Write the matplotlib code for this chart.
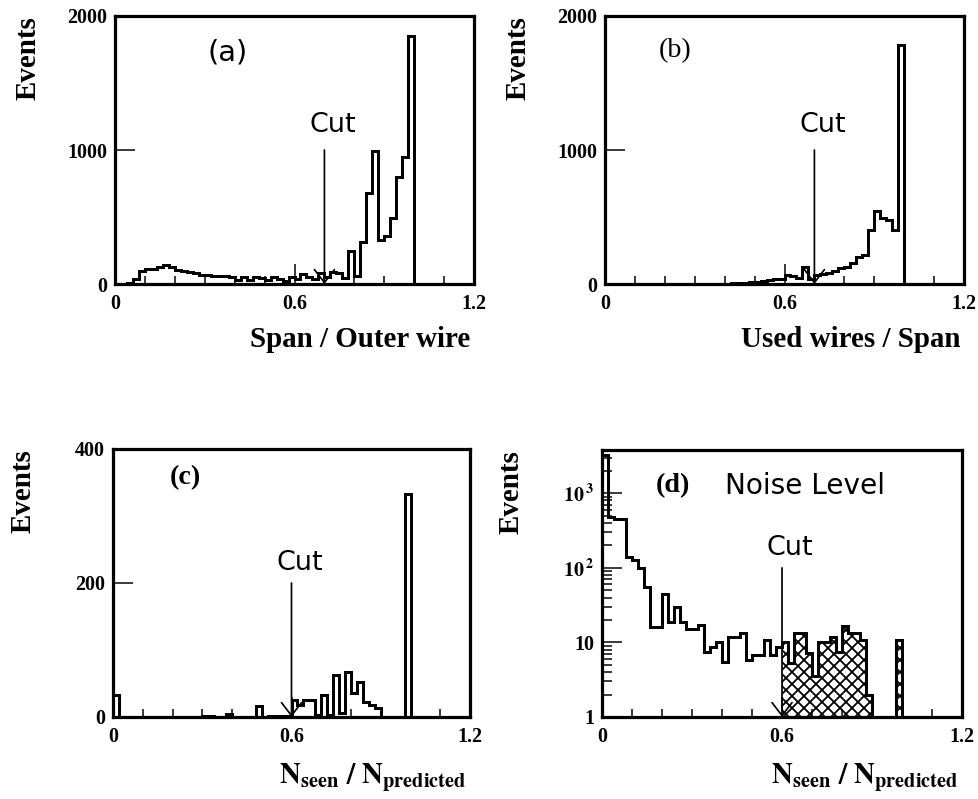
import numpy as np
import matplotlib
matplotlib.use('Agg')
import matplotlib.pyplot as plt
from matplotlib.ticker import FixedLocator, MultipleLocator, NullFormatter

plt.rcParams['mathtext.fontset'] = 'stix'
plt.rcParams['hatch.linewidth'] = 1.8

# bin edges shared by the four histograms (width 0.02)
edges = np.linspace(0.0, 1.0, 51)

# (a) Span / Outer wire
span_counts = [0, 0, 5, 35, 100, 110, 115, 130, 140, 125,
               105, 95, 90, 80, 70, 65, 62, 60, 58, 55,
               30, 50, 30, 50, 45, 30, 50, 40, 25, 55,
               35, 75, 55, 40, 80, 55, 90, 85, 45, 250,
               60, 310, 680, 990, 330, 360, 490, 800, 950, 1850]

# (b) Used wires / Span
used_counts = [0, 0, 0, 0, 0, 0, 0, 0, 0, 0,
               0, 0, 0, 0, 0, 0, 0, 0, 0, 0,
               2, 4, 6, 10, 18, 15, 25, 28, 35, 40,
               70, 60, 45, 125, 40, 70, 75, 85, 100, 118,
               130, 155, 205, 220, 400, 545, 490, 480, 400, 1780]

# (c) Nseen / Npredicted
seen_counts = [33, 0, 0, 0, 0, 0, 0, 0, 0, 0,
               0, 0, 0, 0, 0, 1, 1, 0, 0, 4,
               0, 0, 0, 0, 17, 0, 1, 1, 1, 2,
               26, 18, 26, 26, 3, 33, 3, 63, 6, 67,
               36, 52, 22, 18, 13, 0, 0, 0, 0, 333]

# (d) Noise level (log scale, 1 = empty bin)
noise_counts = [3300, 480, 450, 450, 140, 127, 100, 55, 16, 16,
                45, 19, 30, 19, 15, 15, 17, 7.5, 8.7, 10,
                5.5, 12, 12, 13.5, 5.8, 6.8, 6.8, 10.8, 6.8, 8.7,
                10, 5.3, 13.4, 13.4, 7.2, 3.5, 10, 10, 11.8, 7.4,
                16.7, 13.4, 13.4, 10.8, 2, 1, 1, 1, 1, 10.8]

cut_ab = 0.7
cut_cd = 0.6

serif = 'Liberation Serif'
sans = 'DejaVu Sans'

W, H = 978, 799
fig = plt.figure(figsize=(W / 72, H / 72), dpi=72)


def px_axes(l, t, r, b):
    return fig.add_axes([l / W, 1 - b / H, (r - l) / W, (b - t) / H])


def style(ax):
    for s in ax.spines.values():
        s.set_linewidth(3.2)
    ax.set_xlim(0, 1.2)
    ax.xaxis.set_major_locator(FixedLocator([0, 0.6, 1.2]))
    ax.xaxis.set_minor_locator(MultipleLocator(0.1))
    ax.set_xticklabels(['0', '0.6', '1.2'])
    ax.tick_params(which='both', direction='in', top=False, right=False, width=1.5,
                   labelsize=20)
    ax.tick_params(which='major', length=20)
    ax.tick_params(which='minor', length=8)
    ax.tick_params(axis='x', pad=10)
    ax.tick_params(axis='y', pad=8)
    for lab in ax.get_xticklabels() + ax.get_yticklabels():
        lab.set_fontfamily(serif)
        lab.set_fontweight('bold')
    ax.set_ylabel('Events', fontsize=29, fontfamily=serif, fontweight='bold', loc='top')


def cut(ax, x, top, ytext):
    ax.annotate('', xy=(x, ax.get_ylim()[0]), xytext=(x, top),
                arrowprops=dict(arrowstyle='->,head_length=0.65,head_width=0.5',
                                lw=1.7, color='k', shrinkA=0, shrinkB=0,
                                mutation_scale=20))
    ax.text(x - 0.05, ytext, 'Cut', fontsize=27, fontfamily=sans, va='bottom', ha='left')


# ---- (a)
ax = px_axes(115, 16, 474, 284)
ax.stairs(span_counts, edges, color='k', lw=3, baseline=0)
ax.set_ylim(0, 2000)
ax.set_yticks([0, 1000, 2000])
ax.set_yticklabels(['0', '1000', '2000'])
style(ax)
cut(ax, cut_ab, 1000, 1090)
ax.text(0.31, 1730, '(a)', fontsize=29, fontfamily=sans, va='center')
ax.set_xlabel('Span / Outer wire', fontsize=29, fontfamily=serif, fontweight='bold', loc='right')
ax.xaxis.set_label_coords(0.99, -0.155)
ax.yaxis.set_label_coords(-0.205, 1.0)

# ---- (b)
ax = px_axes(605, 16, 964, 284)
ax.stairs(used_counts, edges, color='k', lw=3, baseline=0)
ax.set_ylim(0, 2000)
ax.set_yticks([0, 1000, 2000])
ax.set_yticklabels(['0', '1000', '2000'])
style(ax)
cut(ax, cut_ab, 1000, 1090)
ax.text(0.18, 1745, '(b)', fontsize=28, fontfamily=serif, va='center')
ax.set_xlabel('Used wires / Span', fontsize=29, fontfamily=serif, fontweight='bold', loc='right')
ax.xaxis.set_label_coords(0.99, -0.155)
ax.yaxis.set_label_coords(-0.205, 1.0)

nlabel = r'$\mathbf{N_{seen}\ /\ N_{predicted}}$'

# ---- (c)
ax = px_axes(113, 449, 470, 717)
ax.stairs(seen_counts, edges, color='k', lw=3, baseline=0)
ax.set_ylim(0, 400)
ax.set_yticks([0, 200, 400])
ax.set_yticklabels(['0', '200', '400'])
style(ax)
cut(ax, cut_cd, 200, 210)
ax.text(0.19, 357, '(c)', fontsize=28, fontfamily=serif, fontweight='bold', va='center')
ax.set_xlabel(nlabel, fontsize=29, loc='right')
ax.xaxis.set_label_coords(0.99, -0.165)
ax.yaxis.set_label_coords(-0.215, 1.0)

# ---- (d)
ax = px_axes(602, 450, 962, 717)
ax.set_yscale('log')
ax.set_ylim(1, 3800)
noise = np.array(noise_counts)
sel = edges[:-1] >= cut_cd - 1e-9
k0 = np.argmax(sel)
ax.stairs(noise[k0:], edges[k0:], baseline=1, fill=True, facecolor='white',
          edgecolor='k', hatch='xx', lw=0)
ax.stairs(noise, edges, color='k', lw=3, baseline=1)
ax.yaxis.set_major_locator(FixedLocator([1, 10, 100, 1000]))
ax.yaxis.set_minor_locator(FixedLocator([m * 10 ** e for e in range(4) for m in range(2, 10)]))
ax.yaxis.set_minor_formatter(NullFormatter())
ax.set_yticklabels(['1', '10', r'$\mathbf{10^{\,2}}$', r'$\mathbf{10^{\,3}}$'])
style(ax)
ax.tick_params(axis='y', which='minor', length=10)
cut(ax, cut_cd, 100, 125)
ax.text(0.18, 1260, '(d)', fontsize=28, fontfamily=serif, fontweight='bold', va='center')
ax.text(0.41, 1260, 'Noise Level', fontsize=28, fontfamily=sans, va='center')
ax.set_xlabel(nlabel, fontsize=29, loc='right')
ax.xaxis.set_label_coords(0.99, -0.165)
ax.yaxis.set_label_coords(-0.215, 1.0)

fig.savefig('out.png', dpi=72)
